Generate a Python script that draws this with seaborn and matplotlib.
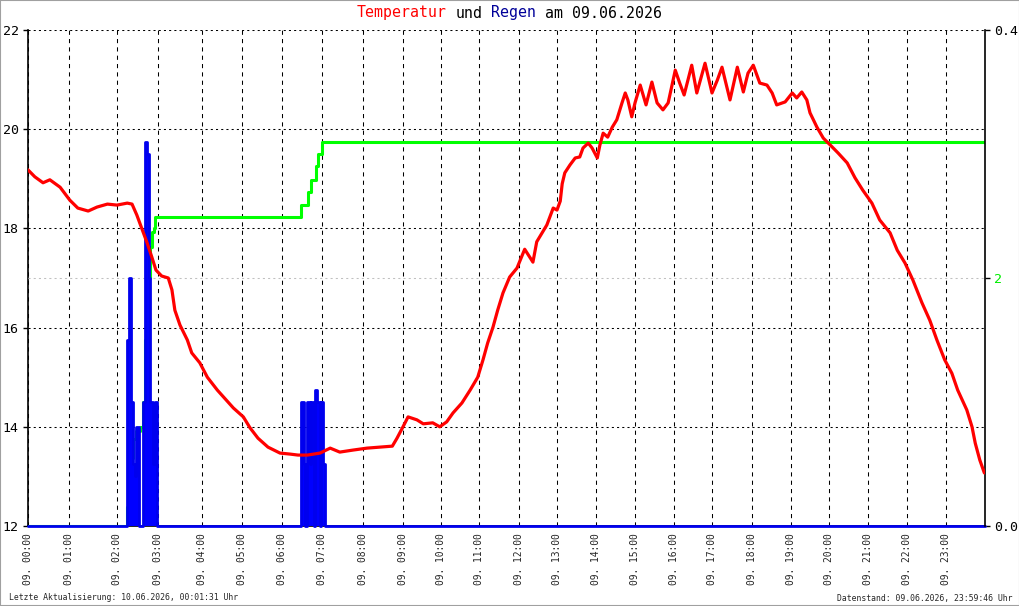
import numpy as np
import pandas as pd
import matplotlib
matplotlib.use("Agg")
import matplotlib.pyplot as plt
import seaborn as sns
from matplotlib.patches import Rectangle
from matplotlib.transforms import offset_copy

# ---------------- data ----------------
temp_times = ["00:00", "00:10", "00:22", "00:32", "00:47", "01:01", "01:11", "01:24", "01:35", "01:48",
              "02:00", "02:15", "02:22", "02:29", "02:37", "02:44", "02:51", "02:57", "03:05", "03:14",
              "03:19", "03:23", "03:30", "03:40", "03:46", "03:57", "04:08", "04:23", "04:35", "04:47",
              "05:02", "05:12", "05:24", "05:39", "05:57", "06:12", "06:24", "06:38", "06:57", "07:12",
              "07:26", "07:45", "08:06", "08:26", "08:44", "08:51", "09:00", "09:08", "09:22", "09:32",
              "09:47", "09:58", "10:09", "10:19", "10:33", "10:46", "10:58", "11:06", "11:13", "11:21",
              "11:28", "11:36", "11:46", "11:57", "12:09", "12:22", "12:28", "12:44", "12:54", "13:00",
              "13:05", "13:08", "13:12", "13:20", "13:28", "13:35", "13:40", "13:48", "13:54", "14:02",
              "14:06", "14:11", "14:18", "14:25", "14:32", "14:40", "14:45", "14:49", "14:55", "15:00",
              "15:08", "15:17", "15:26", "15:34", "15:43", "15:51", "16:02", "16:09", "16:16", "16:28",
              "16:36", "16:49", "17:00", "17:08", "17:15", "17:27", "17:38", "17:47", "17:54", "18:02",
              "18:12", "18:23", "18:31", "18:38", "18:51", "19:02", "19:09", "19:17", "19:25", "19:30",
              "19:41", "19:51", "20:02", "20:14", "20:28", "20:40", "20:52", "21:06", "21:18", "21:34",
              "21:45", "21:57", "22:09", "22:23", "22:35", "22:46", "22:58", "23:09", "23:18", "23:32",
              "23:40", "23:45", "23:52", "23:59"]
temp_values = [19.18, 19.04, 18.92, 18.98, 18.83, 18.57, 18.41, 18.35, 18.43, 18.49,
               18.47, 18.51, 18.49, 18.27, 17.97, 17.71, 17.42, 17.16, 17.04, 17.00,
               16.76, 16.35, 16.05, 15.75, 15.49, 15.29, 15.00, 14.74, 14.56, 14.38,
               14.20, 13.98, 13.77, 13.59, 13.47, 13.45, 13.43, 13.43, 13.47, 13.57,
               13.49, 13.53, 13.57, 13.59, 13.61, 13.77, 14.00, 14.20, 14.14, 14.06,
               14.08, 14.00, 14.10, 14.28, 14.48, 14.74, 15.00, 15.35, 15.69, 16.01,
               16.35, 16.70, 17.02, 17.20, 17.58, 17.32, 17.73, 18.07, 18.41, 18.37,
               18.55, 18.90, 19.12, 19.28, 19.42, 19.44, 19.62, 19.72, 19.62, 19.42,
               19.68, 19.92, 19.84, 20.04, 20.19, 20.53, 20.73, 20.59, 20.25, 20.53,
               20.89, 20.49, 20.95, 20.53, 20.39, 20.53, 21.19, 20.93, 20.69, 21.29,
               20.73, 21.33, 20.73, 20.99, 21.25, 20.59, 21.25, 20.75, 21.13, 21.29,
               20.93, 20.89, 20.73, 20.49, 20.55, 20.73, 20.63, 20.75, 20.59, 20.33,
               20.04, 19.82, 19.68, 19.52, 19.32, 19.02, 18.77, 18.51, 18.17, 17.91,
               17.56, 17.30, 16.96, 16.50, 16.15, 15.75, 15.35, 15.08, 14.74, 14.34,
               14.00, 13.67, 13.33, 13.07]

rain_times = ["00:00", "02:14", "02:17", "02:20", "02:24", "02:26", "02:28", "02:32", "02:38", "02:41",
              "02:44", "02:47", "02:49", "02:52", "02:55", "02:58", "06:28", "06:33", "06:34", "06:37",
              "06:42", "06:43", "06:48", "06:49", "06:53", "06:57", "06:58", "07:02", "07:04", "24:00"]
rain_values = [0.0, 0.15, 0.20, 0.10, 0.05, 0.04, 0.08, 0.0, 0.10, 0.31,
               0.30, 0.20, 0.10, 0.05, 0.10, 0.0, 0.10, 0.05, 0.0, 0.10,
               0.05, 0.10, 0.0, 0.11, 0.10, 0.0, 0.10, 0.05, 0.0, 0.0]

rain_sum_times = ["00:00", "02:14", "02:17", "02:20", "02:24", "02:28", "02:34", "02:38", "02:41", "02:44",
                  "02:48", "02:51", "02:54", "02:56", "06:28", "06:39", "06:44", "06:51", "06:54", "07:00",
                  "24:00"]
rain_sum_values = [0.0, 0.15, 0.35, 0.55, 0.70, 0.77, 0.80, 1.0, 1.5, 2.0,
                   2.25, 2.37, 2.40, 2.49, 2.59, 2.69, 2.79, 2.90, 3.00, 3.10,
                   3.10]

hour_ticks = list(range(24))
hour_labels = ["09. %02d:00" % h for h in hour_ticks]
temp_ticks = [12, 14, 16, 18, 20, 22]
rain_ticks = [0.0, 0.4]
rain_tick_labels = ["0.0", "0.4"]
sum_ticks = [2]
sum_tick_labels = ["2"]

title_parts = [("Temperatur", "#ff0000"), (" und ", "#000000"), ("Regen", "#000099"), (" am 09.06.2026", "#000000")]
footer_left = "Letzte Aktualisierung: 10.06.2026, 00:01:31 Uhr"
footer_right = "Datenstand: 09.06.2026, 23:59:46 Uhr"


def to_hours(s):
    h, m = s.split(":")
    return int(h) + int(m) / 60.0


temp_df = pd.DataFrame({"t": [to_hours(s) for s in temp_times], "v": temp_values})
rain_df = pd.DataFrame({"t": [to_hours(s) for s in rain_times], "v": rain_values})
sum_df = pd.DataFrame({"t": [to_hours(s) for s in rain_sum_times], "v": rain_sum_values})

# ---------------- layout / style ----------------
sns.set_style("ticks")
MONO = "DejaVu Sans Mono"
plt.rcParams["font.family"] = [MONO, "DejaVu Sans"]

W, H = 1020, 606
L, R, T, B = 28, 985, 30, 526
# uneven hour spacing of the reference time axis (pixel of each full hour)
hour_px = [28, 69, 117, 158, 202, 242, 282, 322, 363, 403, 441, 479, 519,
           557, 596, 635, 674, 712, 752, 791, 829, 868, 907, 946, 985]
knot_h = np.arange(25, dtype=float)
knot_f = (np.array(hour_px, dtype=float) - L) / (R - L)


def fwd(x):
    return np.interp(x, knot_h, knot_f)


def inv(y):
    return np.interp(y, knot_f, knot_h)


fig = plt.figure(figsize=(W / 100, H / 100), dpi=100)
fig.patch.set_facecolor("white")
ax = fig.add_axes([L / W, 1 - B / H, (R - L) / W, (B - T) / H])
ax.set_xscale("function", functions=(fwd, inv))
ax.set_xlim(0, 24)
ax.set_ylim(12, 22)
ax.set_xticks(hour_ticks)
ax.set_xticklabels(hour_labels, rotation=90, fontsize=6.9, family=MONO)
ax.set_yticks(temp_ticks)
ax.set_yticklabels([str(v) for v in temp_ticks], fontsize=9.5, family=MONO)
ax.minorticks_off()
ax.xaxis.grid(True, color="black", lw=0.75, ls=(0, (4, 4)))
ax.yaxis.grid(True, color="black", lw=0.75, ls=(0, (2, 3)))
ax.tick_params(axis="x", length=0, pad=5)
ax.tick_params(axis="y", direction="out", length=3.6, width=1, pad=3, colors="black")
for side in ["top", "right"]:
    ax.spines[side].set_visible(False)
ax.spines["left"].set_linewidth(1.2)
ax.spines["bottom"].set_linewidth(1.2)
ax.spines["left"].set_color("black")
ax.spines["bottom"].set_color("black")

# cumulative rain (green)
ax_g = ax.twinx()
ax_g.set_ylim(0, 4)
ax_g.axhline(2, color="#c0c0c0", lw=0.75, ls=(0, (2, 3)), zorder=0)
sns.lineplot(data=sum_df, x="t", y="v", ax=ax_g, color="#00ff00", lw=2.2,
             drawstyle="steps-post", estimator=None, sort=False)
ax_g.set_yticks(sum_ticks)
ax_g.set_yticklabels(sum_tick_labels, fontsize=9.5, family=MONO)
ax_g.tick_params(axis="y", direction="out", length=3.6, width=1, pad=3, colors="black", labelcolor="#00ee00")
for s in ax_g.spines.values():
    s.set_visible(False)

# rain (blue)
ax_r = ax.twinx()
ax_r.set_ylim(0, 0.4)
ax_r.fill_between(rain_df["t"], rain_df["v"], step="post", color="#0000ff", lw=0)
sns.lineplot(data=rain_df, x="t", y="v", ax=ax_r, color="#0000ee", lw=2.0,
             drawstyle="steps-post", estimator=None, sort=False)
for ln in ax_r.lines:
    ln.set_clip_on(False)
ax_r.set_yticks(rain_ticks)
ax_r.set_yticklabels(rain_tick_labels, fontsize=9.5, family=MONO)
ax_r.tick_params(axis="y", direction="out", length=3.6, width=1, pad=3, colors="black")
for side in ["top", "left", "bottom"]:
    ax_r.spines[side].set_visible(False)
ax_r.spines["right"].set_linewidth(1.2)
ax_r.spines["right"].set_color("black")

# temperature (red)
ax_t = ax.twinx()
ax_t.set_ylim(12, 22)
sns.lineplot(data=temp_df, x="t", y="v", ax=ax_t, color="#ff0000", lw=2.3,
             estimator=None, sort=False)
ax_t.set_yticks([])
for s in ax_t.spines.values():
    s.set_visible(False)

for a in (ax, ax_g, ax_r, ax_t):
    a.set_xlabel("")
    a.set_ylabel("")
    a.set_xlim(0, 24)
ax_g.tick_params(axis="x", length=0)
ax_r.tick_params(axis="x", length=0)
ax_t.tick_params(axis="x", length=0)

# title with coloured words (monospace => fixed advance)
TF = 10.7
adv = 0.602 * TF
idx = 0
for txt, col in title_parts:
    lead = len(txt) - len(txt.lstrip(" "))
    word = txt.strip(" ")
    tr = offset_copy(fig.transFigure, fig=fig, x=(idx + lead) * adv, y=0, units="points")
    fig.text(357 / W, 1 - 13 / H, word, transform=tr, ha="left", va="center",
             fontsize=TF, color=col, family=MONO)
    idx += len(txt)

fig.text(9 / W, 1 - 598 / H, footer_left, ha="left", va="center", fontsize=5.9, family=MONO)
fig.text(1013 / W, 1 - 598 / H, footer_right, ha="right", va="center", fontsize=5.9, family=MONO)

fig.patches.append(Rectangle((0, 0), 1, 1, transform=fig.transFigure, fill=False,
                             edgecolor="#a0a0a0", lw=1.5))

fig.savefig("out.png", dpi=100)
